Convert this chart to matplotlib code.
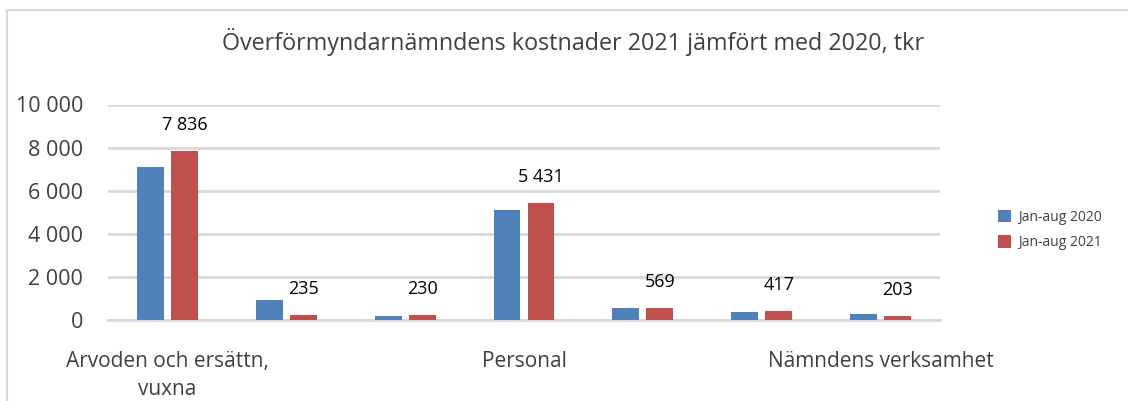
import numpy as np
import matplotlib
matplotlib.use('Agg')
import matplotlib.pyplot as plt
from matplotlib.lines import Line2D

# Chart data (tkr)
categories = ['Arvoden och ersättn,\nvuxna', '', '', 'Personal', '', '', 'Nämndens verksamhet']
series_names = ['Jan-aug 2020', 'Jan-aug 2021']
values_2020 = [7100, 930, 190, 5100, 560, 385, 280]
values_2021 = [7836, 235, 230, 5431, 569, 417, 203]
yticks = [0, 2000, 4000, 6000, 8000, 10000]

blue = '#4F81BD'
red = '#C0504D'
grid_col = '#D9D9D9'
text_col = '#404040'

plt.rcParams['font.family'] = ['Open Sans', 'DejaVu Sans']

fig = plt.figure(figsize=(11.28, 4.01), dpi=100)
ax = fig.add_axes([108 / 1128, 1 - 320 / 401, (940 - 108) / 1128, (320 - 104.5) / 401])

x = np.arange(len(categories))
w = 0.227
off = 0.143
ax.bar(x - off, values_2020, width=w, color=blue, label=series_names[0], zorder=3)
ax.bar(x + off, values_2021, width=w, color=red, label=series_names[1], zorder=3)

# data labels for 2021 only
for xi, v in zip(x + off, values_2021):
    ax.annotate(f'{v:,}'.replace(',', ' '), (xi, v), xytext=(0, 12), textcoords='offset points',
                ha='center', va='bottom', fontsize=13, color='black')

ax.set_xlim(-0.5, len(categories) - 0.5)
ax.set_ylim(0, 10000)
ax.set_yticks(yticks)
ax.set_yticklabels([f'{t:,}'.replace(',', ' ') for t in yticks], fontsize=15.5, color=text_col)
ax.set_xticks(x)
ax.set_xticklabels(categories, fontsize=15, color=text_col, linespacing=1.45)
ax.tick_params(axis='both', length=0)
ax.tick_params(axis='y', pad=18)
ax.tick_params(axis='x', pad=22)
ax.grid(axis='y', color=grid_col, linewidth=2, zorder=0)
for s in ['top', 'right', 'left']:
    ax.spines[s].set_visible(False)
ax.spines['bottom'].set_color(grid_col)
ax.spines['bottom'].set_linewidth(2)

fig.text(573 / 1128, 1 - 42 / 401, 'Överförmyndarnämndens kostnader 2021 jämfört med 2020, tkr',
         ha='center', va='center', fontsize=16.8, color=text_col)

fig.legend(loc='center left', bbox_to_anchor=(985 / 1128, 1 - 230 / 401), frameon=False,
           fontsize=10, handlelength=1.0, handleheight=1.0, handletextpad=0.5,
           labelspacing=0.75, labelcolor=text_col)

# outer chart border
fig.add_artist(Line2D([7 / 1128, 1], [1 - 10 / 401, 1 - 10 / 401], color='#D9D9D9', linewidth=1.5))
fig.add_artist(Line2D([7 / 1128, 7 / 1128], [0, 1 - 10 / 401], color='#D9D9D9', linewidth=1.5))

fig.savefig('out.png', dpi=100, facecolor='white')
